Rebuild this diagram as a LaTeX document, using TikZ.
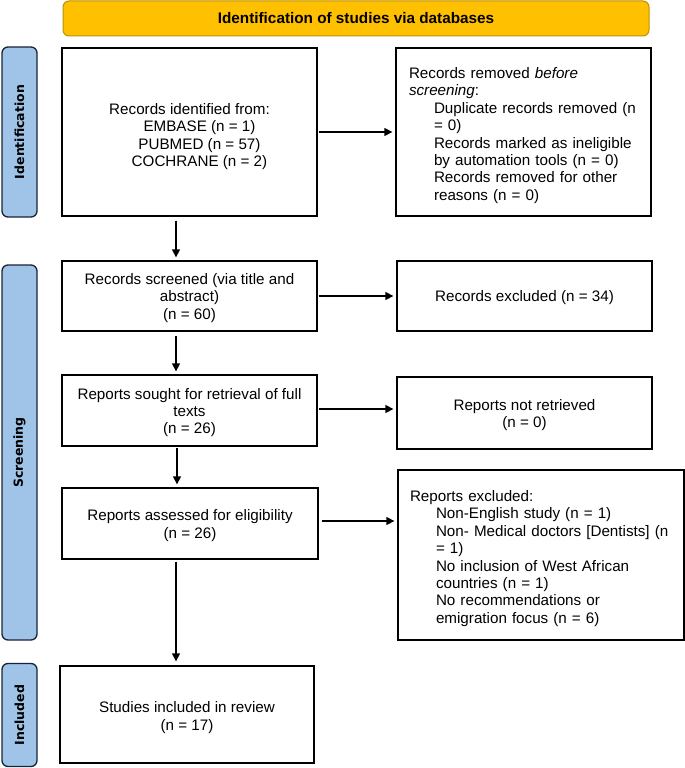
\documentclass[tikz,border=0pt]{standalone}
\usepackage{fontspec}
\setmainfont{Liberation Sans}
\newfontfamily\sidefont{DejaVu Sans}
\usetikzlibrary{arrows.meta}
\definecolor{hdrfill}{RGB}{255,192,0}
\definecolor{hdrline}{RGB}{191,144,0}
\definecolor{barfill}{RGB}{160,196,232}
\definecolor{barline}{RGB}{25,35,55}
\begin{document}
\begin{tikzpicture}[x=1pt,y=-1pt,
  box/.style={draw=black,line width=1.3pt,inner sep=0pt,align=center,
    font=\fontsize{15.2}{17.4}\selectfont},
  lbox/.style={draw=black,line width=1.3pt,inner ysep=0pt,align=left,
    font=\fontsize{15.2}{17.4}\selectfont},
  bar/.style={draw=barline,fill=barfill,line width=1.3pt,rounded corners=6pt,
    rotate=90,inner sep=0pt,minimum height=35pt,font=\sidefont\bfseries\fontsize{12.5}{14}\selectfont},
  hdr/.style={draw=hdrline,fill=hdrfill,line width=1pt,rounded corners=6pt,
    inner sep=0pt,font=\bfseries\fontsize{15.3}{17}\selectfont},
  arr/.style={-{Triangle[length=8pt,width=8pt]},line width=1.3pt}]
\useasboundingbox (0,0) rectangle (685,768);

\node[hdr,minimum width=586pt,minimum height=35pt] (hdr) at (356,18.5) {Identification of studies via databases};

\node[bar,minimum width=170pt] (bar1) at (19.5,132) {Identification};
\node[bar,minimum width=375pt] (bar2) at (19.5,452.5) {Screening};
\node[bar,minimum width=103pt] (bar3) at (19.5,715) {Included};

\node[box,minimum width=255pt,minimum height=168pt] (b1) at (189.5,132)
  {\rule{0pt}{20pt}Records identified from:\\
   \hspace*{20pt}EMBASE (n = 1)\\
   \hspace*{20pt}PUBMED (n = 57)\\
   \hspace*{20pt}COCHRANE (n = 2)};
\node[lbox,inner xsep=13pt,text width=229pt,minimum height=168pt] (r1) at (523.5,132)
  {\rule{0pt}{18pt}Records removed \textit{before}\\
   \textit{screening}:\\
   \hspace*{25pt}Duplicate records removed (n\\
   \hspace*{25pt}= 0)\\
   \hspace*{25pt}Records marked as ineligible\\
   \hspace*{25pt}by automation tools (n = 0)\\
   \hspace*{25pt}Records removed for other\\
   \hspace*{25pt}reasons (n = 0)};

\node[box,minimum width=255pt,minimum height=70pt] (b2) at (189.5,296)
  {\rule{0pt}{15pt}Records screened (via title and\\ abstract)\\ (n = 60)};
\node[box,minimum width=255pt,minimum height=70pt] (r2) at (524.5,296)
  {\rule{0pt}{15pt}Records excluded (n = 34)};

\node[box,minimum width=255pt,minimum height=71pt] (b3) at (189.5,410.5)
  {\rule{0pt}{15pt}Reports sought for retrieval of full\\ texts\\ (n = 26)};
\node[box,minimum width=255pt,minimum height=72pt] (r3) at (524.5,413)
  {\rule{0pt}{15pt}Reports not retrieved\\ (n = 0)};

\node[box,minimum width=256pt,minimum height=71pt] (b4) at (190,523.5)
  {\rule{0pt}{15pt}Reports assessed for eligibility\\ (n = 26)};
\node[lbox,inner xsep=12pt,text width=262pt,minimum height=170pt] (r4) at (541,555)
  {\rule{0pt}{18pt}Reports excluded:\\
   \hspace*{26pt}Non-English study (n = 1)\\
   \hspace*{26pt}Non- Medical doctors [Dentists] (n\\
   \hspace*{26pt}= 1)\\
   \hspace*{26pt}No inclusion of West African\\
   \hspace*{26pt}countries (n = 1)\\
   \hspace*{26pt}No recommendations or\\
   \hspace*{26pt}emigration focus (n = 6)};

\node[box,minimum width=254pt,minimum height=97pt] (b5) at (187,714.5)
  {\rule{0pt}{17pt}Studies included in review\\ (n = 17)};

\draw[arr,shorten <=4pt,shorten >=3pt] ([xshift=-13.5pt]b1.south) -- ([xshift=-13.5pt]b1.south |- b2.north);
\draw[arr,shorten <=4pt,shorten >=3pt] ([xshift=-13.5pt]b2.south) -- ([xshift=-13.5pt]b2.south |- b3.north);
\draw[arr,shorten <=1pt,shorten >=3pt] ([xshift=-12.5pt]b3.south) -- ([xshift=-12.5pt]b3.south |- b4.north);
\draw[arr,shorten <=2pt,shorten >=4pt] ([xshift=-14pt]b4.south) -- ([xshift=-14pt]b4.south |- b5.north);

\draw[arr,shorten <=1pt,shorten >=3pt] (b1.east) -- (b1.east -| r1.west);
\draw[arr,shorten <=1pt,shorten >=3pt] (b2.east) -- (b2.east -| r2.west);
\draw[arr,shorten <=1pt,shorten >=3pt] ([yshift=1.5pt]b3.east) -- ([yshift=1.5pt]b3.east -| r3.west);
\draw[arr,shorten <=3pt,shorten >=3pt] ([yshift=2.5pt]b4.east) -- ([yshift=2.5pt]b4.east -| r4.west);
\end{tikzpicture}
\end{document}
